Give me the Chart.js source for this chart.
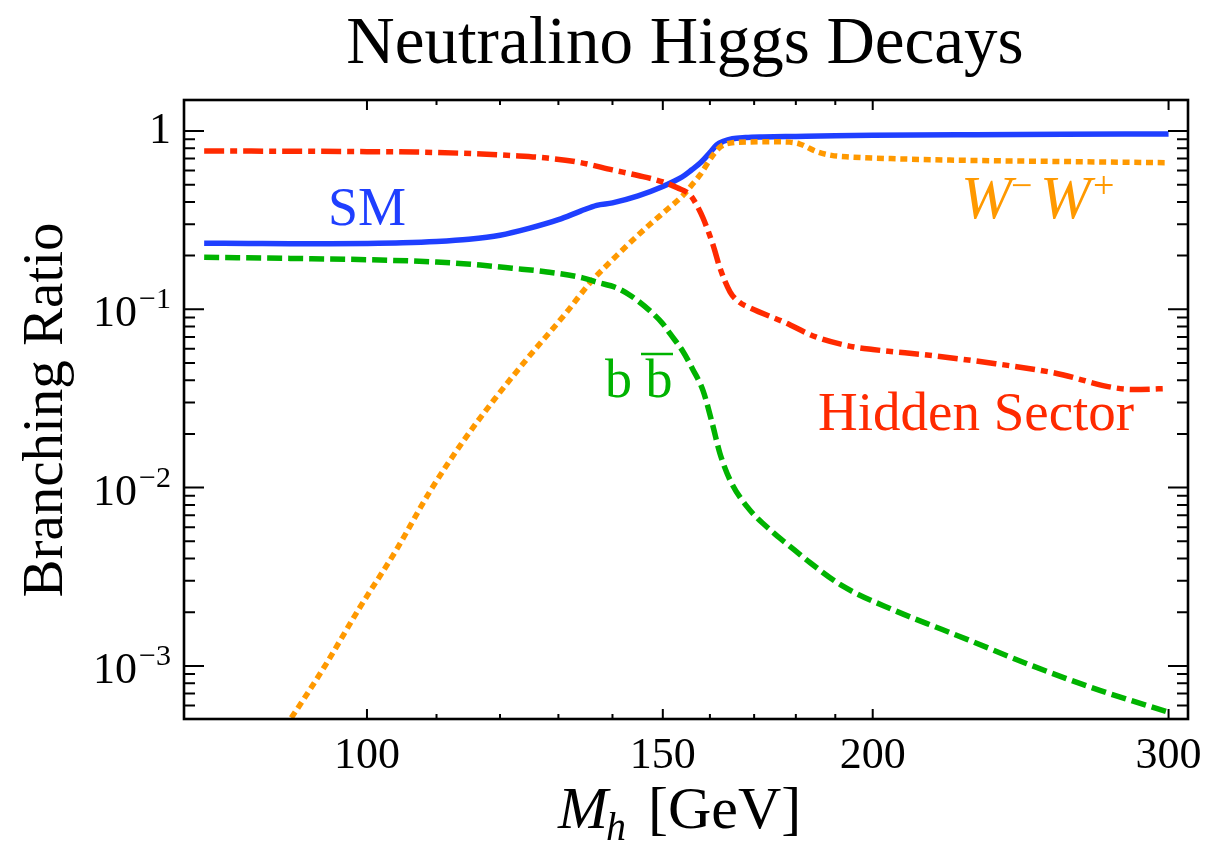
<!DOCTYPE html>
<html>
<head>
<meta charset="utf-8">
<script src="https://cdn.jsdelivr.net/npm/chart.js@4.4.1/dist/chart.umd.min.js"></script>
<style>
  html, body { margin: 0; padding: 0; background: #ffffff; }
  #wrap { width: 1209px; height: 846px; position: relative; }
</style>
</head>
<body>
<div id="wrap"><canvas id="c" width="1209" height="846"></canvas></div>
<script>
// ---------------- data ----------------
const smMass = [80, 85, 90, 95, 100, 105, 110, 115, 120, 125, 130, 134, 137, 140, 145, 150, 152, 154, 156, 158, 160, 161.5, 163, 165, 168, 172, 180, 190, 200, 230, 260, 300];
const smBR   = [0.235, 0.234, 0.233, 0.233, 0.234, 0.236, 0.240, 0.247, 0.260, 0.285, 0.318, 0.355, 0.383, 0.395, 0.432, 0.488, 0.518, 0.552, 0.604, 0.665, 0.756, 0.835, 0.875, 0.905, 0.918, 0.925, 0.932, 0.940, 0.945, 0.953, 0.958, 0.962];

const hsMass = [80, 90, 100, 107, 117, 122, 128, 134, 140, 145, 150, 153, 155.7, 157, 158.5, 160.7, 162.2, 164.5, 166.5, 169, 177, 185, 194, 200, 217, 235, 255, 286, 300];
const hsBR   = [0.772, 0.770, 0.766, 0.762, 0.743, 0.728, 0.705, 0.665, 0.605, 0.563, 0.518, 0.480, 0.438, 0.390, 0.325, 0.229, 0.171, 0.125, 0.110, 0.102, 0.085, 0.070, 0.062, 0.0595, 0.0550, 0.0500, 0.0445, 0.0355, 0.0360];

const bbMass = [80, 90, 101.8, 110, 116.8, 122, 128, 134.4, 137, 140.8, 143.4, 147.4, 150, 151.5, 154.2, 156.3, 158.5, 160.5, 162.2, 164.5, 168.4, 174.5, 178, 183.5, 192, 206, 220, 228, 249, 273, 300];
const bbBR   = [0.196, 0.193, 0.189, 0.184, 0.177, 0.170, 0.162, 0.150, 0.142, 0.132, 0.120, 0.098, 0.083, 0.073, 0.058, 0.046, 0.035, 0.023, 0.0156, 0.011, 0.0078, 0.0056, 0.0048, 0.0038, 0.0028, 0.00205, 0.0016, 0.00140, 0.00100, 0.00073, 0.00055];

const wwMass = [88.5, 90, 94.4, 99, 104, 109, 114, 119, 125, 131.2, 135.7, 140.8, 147.4, 151, 154.2, 156, 157.8, 160.7, 162.5, 164.5, 169, 175, 178.5, 181, 185.3, 189, 193.9, 205, 222.3, 260, 300];
const wwBR   = [0.0004, 0.0005, 0.001, 0.00212, 0.0044, 0.0095, 0.0180, 0.031, 0.055, 0.094, 0.140, 0.200, 0.300, 0.365, 0.435, 0.495, 0.565, 0.733, 0.820, 0.855, 0.868, 0.870, 0.866, 0.845, 0.765, 0.730, 0.715, 0.700, 0.687, 0.674, 0.664];

const xMajorTicks = [100, 150, 200, 300];
const xMajorLabels = ["100", "150", "200", "300"];
const xMinorTicks = [110, 120, 130, 140, 160, 170, 180, 190];
const yMajorTicks = [1, 0.1, 0.01, 0.001];
const yLabelBase = ["1", "10", "10", "10"];
const yLabelExp  = ["", "\u22121", "\u22122", "\u22123"];
const yMinorTicks = [0.9, 0.8, 0.7, 0.6, 0.5, 0.4, 0.3, 0.2,
                     0.09, 0.08, 0.07, 0.06, 0.05, 0.04, 0.03, 0.02,
                     0.009, 0.008, 0.007, 0.006, 0.005, 0.004, 0.003, 0.002,
                     0.0009, 0.0008, 0.0007, 0.0006];

const xRange = [77.82, 308.1];
const yRange = [5.04e-4, 1.492];

// ---------------- helpers ----------------
function pts(xs, ys) { return xs.map((x, i) => ({ x: x, y: ys[i] })); }
const SERIF = '"Liberation Serif", "Times New Roman", serif';

const COL_SM = '#1f3fff';
const COL_HS = '#ff2a00';
const COL_BB = '#00b300';
const COL_WW = '#ff9900';

const decorPlugin = {
  id: 'decor',
  beforeDraw(chart) {
    const ctx = chart.ctx;
    ctx.save();
    ctx.fillStyle = '#ffffff';
    ctx.fillRect(0, 0, chart.width, chart.height);
    ctx.restore();
  },
  afterDraw(chart) {
    const ctx = chart.ctx;
    const a = chart.chartArea;
    const xs = chart.scales.x, ys = chart.scales.y;
    ctx.save();
    ctx.strokeStyle = '#000';
    ctx.fillStyle = '#000';

    // ticks (inward, on all four sides)
    ctx.lineWidth = 2;
    ctx.beginPath();
    const xt = (v, len) => {
      const p = xs.getPixelForValue(v);
      ctx.moveTo(p, a.bottom); ctx.lineTo(p, a.bottom - len);
      ctx.moveTo(p, a.top); ctx.lineTo(p, a.top + len);
    };
    const yt = (v, len) => {
      const p = ys.getPixelForValue(v);
      ctx.moveTo(a.left, p); ctx.lineTo(a.left + len, p);
      ctx.moveTo(a.right, p); ctx.lineTo(a.right - len, p);
    };
    xMajorTicks.forEach(v => xt(v, 10));
    xMinorTicks.forEach(v => xt(v, 5));
    yMajorTicks.forEach(v => yt(v, 20));
    yMinorTicks.forEach(v => { if (v > yRange[0] && v < yRange[1]) yt(v, 11); });
    ctx.stroke();

    // frame
    ctx.lineWidth = 2.6;
    ctx.strokeRect(a.left, a.top, a.right - a.left, a.bottom - a.top);

    // x tick labels
    ctx.font = '44px ' + SERIF;
    ctx.textAlign = 'center';
    ctx.textBaseline = 'alphabetic';
    xMajorTicks.forEach((v, i) => {
      ctx.fillText(xMajorLabels[i], xs.getPixelForValue(v), 768);
    });

    // y tick labels
    ctx.textAlign = 'right';
    yMajorTicks.forEach((v, i) => {
      const p = ys.getPixelForValue(v);
      const right = 171;
      if (yLabelExp[i] === '') {
        ctx.font = '44px ' + SERIF;
        ctx.fillText(yLabelBase[i], right, p + 12);
      } else {
        ctx.font = '30px ' + SERIF;
        const ew = ctx.measureText(yLabelExp[i]).width;
        ctx.fillText(yLabelExp[i], right, p - 1);
        ctx.font = '44px ' + SERIF;
        ctx.fillText(yLabelBase[i], right - ew - 2, p + 17);
      }
    });

    // title
    ctx.textAlign = 'center';
    ctx.font = '67px ' + SERIF;
    ctx.fillText('Neutralino Higgs Decays', 685, 63);

    // y axis title
    ctx.save();
    ctx.translate(62, 410);
    ctx.rotate(-Math.PI / 2);
    ctx.font = '57px ' + SERIF;
    ctx.textAlign = 'center';
    ctx.fillText('Branching Ratio', 0, 0);
    ctx.restore();

    // x axis title  M_h [GeV]
    ctx.textAlign = 'left';
    ctx.font = 'italic 60px ' + SERIF;
    ctx.fillText('M', 558, 828);
    const mw = ctx.measureText('M').width;
    ctx.font = 'italic 40px ' + SERIF;
    ctx.fillText('h', 558 + mw - 2, 840);
    ctx.font = '60px ' + SERIF;
    ctx.fillText('[GeV]', 648, 828);

    // curve annotations
    ctx.fillStyle = COL_SM;
    ctx.font = '54px ' + SERIF;
    ctx.fillText('SM', 328, 225);

    ctx.fillStyle = COL_HS;
    ctx.font = '55px ' + SERIF;
    ctx.fillText('Hidden Sector', 818, 430);

    ctx.fillStyle = COL_BB;
    ctx.font = '54px ' + SERIF;
    ctx.fillText('b b', 605, 397);
    ctx.strokeStyle = COL_BB;
    ctx.lineWidth = 2.5;
    ctx.beginPath();
    ctx.moveTo(641, 354); ctx.lineTo(673, 354);
    ctx.stroke();

    ctx.fillStyle = COL_WW;
    ctx.font = 'italic 61px ' + SERIF;
    ctx.fillText('W', 961, 218);
    ctx.fillText('W', 1040, 218);
    ctx.font = '38px ' + SERIF;
    ctx.fillText('\u2212', 1011, 198);
    ctx.fillText('+', 1093, 198);

    ctx.restore();
  }
};

const common = { pointRadius: 0, fill: false, cubicInterpolationMode: 'monotone', borderCapStyle: 'butt', borderJoinStyle: 'round', clip: 0 };

new Chart(document.getElementById('c'), {
  type: 'line',
  data: {
    datasets: [
      Object.assign({ label: 'Hidden Sector', data: pts(hsMass, hsBR), borderColor: COL_HS, borderWidth: 5.5, borderDash: [20, 6, 7, 6] }, common),
      Object.assign({ label: 'b bbar', data: pts(bbMass, bbBR), borderColor: COL_BB, borderWidth: 5.5, borderDash: [15, 6] }, common),
      Object.assign({ label: 'W-W+', data: pts(wwMass, wwBR), borderColor: COL_WW, borderWidth: 5.5, borderDash: [7, 4.7] }, common),
      Object.assign({ label: 'SM', data: pts(smMass, smBR), borderColor: COL_SM, borderWidth: 5.5 }, common)
    ]
  },
  options: {
    responsive: false,
    animation: false,
    devicePixelRatio: 1,
    layout: { padding: { left: 184, right: 21, top: 100, bottom: 127 } },
    plugins: { legend: { display: false }, title: { display: false }, tooltip: { enabled: false } },
    scales: {
      x: { type: 'logarithmic', min: xRange[0], max: xRange[1], display: false },
      y: { type: 'logarithmic', min: yRange[0], max: yRange[1], display: false }
    }
  },
  plugins: [decorPlugin]
});
</script>
</body>
</html>
